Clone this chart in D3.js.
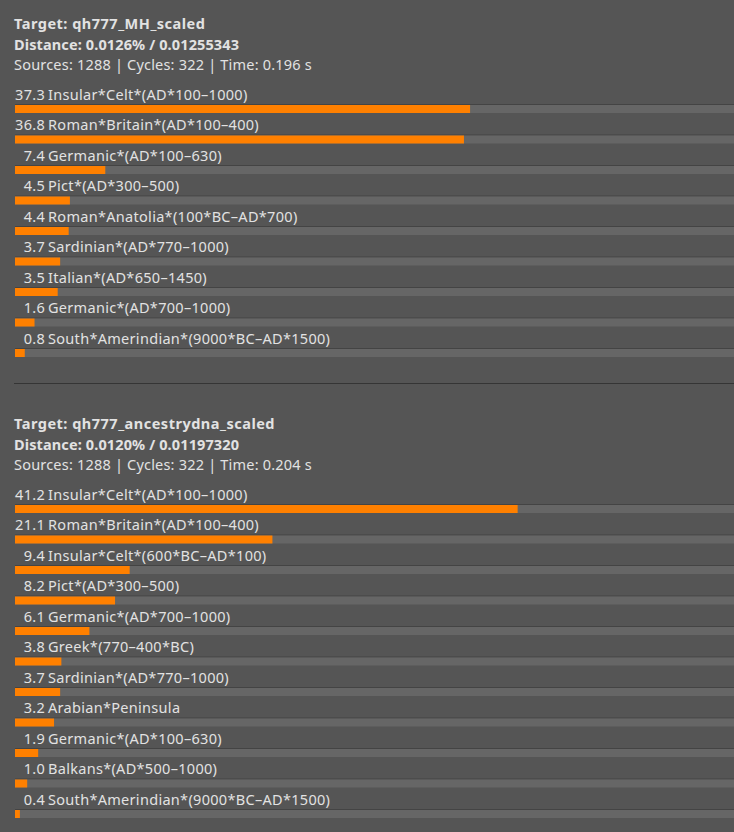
<!DOCTYPE html>
<html>
<head>
<meta charset="utf-8">
<script src="https://cdn.jsdelivr.net/npm/d3@7"></script>
<style>
    body { margin: 0; background: #555555; overflow: hidden; }
    svg { display: block; }
    text { font-family: "Noto Sans", sans-serif; fill: #e2e2e2; }
</style>
</head>
<body>
<svg id="drawing_region"></svg>
<script>
// panel 1
const target1 = "qh777_MH_scaled";
const distance1 = "0.0126% / 0.01255343";
const stats1 = "Sources: 1288 | Cycles: 322 | Time: 0.196 s";
const names1 = [
    "Insular*Celt*(AD*100–1000)",
    "Roman*Britain*(AD*100–400)",
    "Germanic*(AD*100–630)",
    "Pict*(AD*300–500)",
    "Roman*Anatolia*(100*BC–AD*700)",
    "Sardinian*(AD*770–1000)",
    "Italian*(AD*650–1450)",
    "Germanic*(AD*700–1000)",
    "South*Amerindian*(9000*BC–AD*1500)"
];
const values1 = [37.3, 36.8, 7.4, 4.5, 4.4, 3.7, 3.5, 1.6, 0.8];

// panel 2
const target2 = "qh777_ancestrydna_scaled";
const distance2 = "0.0120% / 0.01197320";
const stats2 = "Sources: 1288 | Cycles: 322 | Time: 0.204 s";
const names2 = [
    "Insular*Celt*(AD*100–1000)",
    "Roman*Britain*(AD*100–400)",
    "Insular*Celt*(600*BC–AD*100)",
    "Pict*(AD*300–500)",
    "Germanic*(AD*700–1000)",
    "Greek*(770–400*BC)",
    "Sardinian*(AD*770–1000)",
    "Arabian*Peninsula",
    "Germanic*(AD*100–630)",
    "Balkans*(AD*500–1000)",
    "South*Amerindian*(9000*BC–AD*1500)"
];
const values2 = [41.2, 21.1, 9.4, 8.2, 6.1, 3.8, 3.7, 3.2, 1.9, 1.0, 0.4];

const width = 734, height = 832;
const left = 15;
const rowStep = 30.5;

const svg = d3.select('#drawing_region')
    .attr('width', width)
    .attr('height', height);

// percent -> pixel width (track runs past the right edge)
const xscale = d3.scaleLinear().domain([0, 100]).range([0, 1220]);

function drawPanel(top, target, distance, stats, names, values) {
    const g = svg.append('g').attr('transform', `translate(0, ${top})`);

    g.append('text').attr('x', 14).attr('y', 29)
        .attr('font-size', 14.5).attr('font-weight', 'bold')
        .attr('letter-spacing', 0.5)
        .text(`Target: ${target}`);
    g.append('text').attr('x', 14).attr('y', 50)
        .attr('font-size', 14.5).attr('font-weight', 'bold')
        .attr('letter-spacing', 0.12)
        .text(`Distance: ${distance}`);
    g.append('text').attr('x', 14).attr('y', 70)
        .attr('font-size', 14.5)
        .attr('letter-spacing', 0.2)
        .text(stats);

    const data = names.map((n, i) => ({ name: n, value: values[i] }));
    const yscale = d3.scaleLinear().domain([0, 1]).range([104, 104 + rowStep]);

    const rows = g.selectAll('g.row')
        .data(data)
        .enter()
        .append('g')
        .attr('class', 'row')
        .attr('transform', (d, i) => `translate(0, ${yscale(i)})`);

    rows.append('rect')
        .attr('x', left).attr('y', 0)
        .attr('width', width).attr('height', 1)
        .attr('fill', '#444444');
    rows.append('rect')
        .attr('x', left).attr('y', 1)
        .attr('width', width).attr('height', 8)
        .attr('fill', '#666666');
    rows.append('rect')
        .attr('x', left).attr('y', 1)
        .attr('width', d => xscale(d.value)).attr('height', 8)
        .attr('fill', '#ff8000');

    rows.append('text')
        .attr('x', 45).attr('y', -4.5)
        .attr('text-anchor', 'end')
        .attr('font-size', 14.5)
        .attr('letter-spacing', 0.3)
        .text(d => d.value.toFixed(1));
    rows.append('text')
        .attr('x', 48).attr('y', -4.5)
        .attr('font-size', 14.5)
        .attr('letter-spacing', 0.3)
        .text(d => d.name);
}

drawPanel(0, target1, distance1, stats1, names1, values1);

svg.append('line')
    .attr('x1', 14).attr('x2', width)
    .attr('y1', 383.5).attr('y2', 383.5)
    .attr('stroke', '#353535').attr('stroke-width', 1);

drawPanel(400, target2, distance2, stats2, names2, values2);
</script>
</body>
</html>
